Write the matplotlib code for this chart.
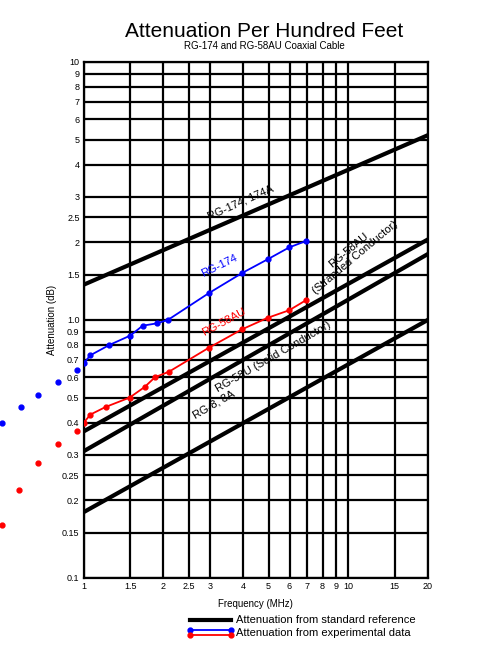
import numpy as np
import matplotlib
matplotlib.use("Agg")
import matplotlib.pyplot as plt
from matplotlib.lines import Line2D

# reference lines (endpoints at 1 and 20 MHz)
ref_freq = [1, 20]
rg174_ref = [1.37, 5.2]
rg58au_ref = [0.37, 2.05]
rg58u_ref = [0.31, 1.8]
rg8_ref = [0.18, 1.0]

# measured data (some points fall below 1 MHz, outside the axes)
blue_freq = [0.49, 0.58, 0.67, 0.80, 0.94, 1.0, 1.06, 1.25, 1.5, 1.67, 1.89, 2.08, 2.97, 3.97, 4.97, 5.98, 6.9]
blue_att = [0.40, 0.46, 0.51, 0.575, 0.64, 0.68, 0.73, 0.80, 0.87, 0.95, 0.97, 1.0, 1.27, 1.52, 1.72, 1.91, 2.02]
red_freq = [0.49, 0.57, 0.67, 0.80, 0.94, 1.0, 1.06, 1.21, 1.49, 1.70, 1.86, 2.1, 2.97, 3.97, 4.97, 5.98, 6.9]
red_att = [0.16, 0.22, 0.28, 0.33, 0.37, 0.40, 0.43, 0.46, 0.50, 0.55, 0.60, 0.63, 0.78, 0.92, 1.02, 1.09, 1.19]

x_ticks = [1, 1.5, 2, 2.5, 3, 4, 5, 6, 7, 8, 9, 10, 15, 20]
x_labels = ["1", "1.5", "2", "2.5", "3", "4", "5", "6", "7", "8", "9", "10", "15", "20"]
y_ticks = [0.1, 0.15, 0.2, 0.25, 0.3, 0.4, 0.5, 0.6, 0.7, 0.8, 0.9, 1.0,
           1.5, 2, 2.5, 3, 4, 5, 6, 7, 8, 9, 10]
y_labels = ["0.1", "0.15", "0.2", "0.25", "0.3", "0.4", "0.5", "0.6", "0.7", "0.8", "0.9", "1.0",
            "1.5", "2", "2.5", "3", "4", "5", "6", "7", "8", "9", "10"]

plt.rcParams["font.family"] = ["Liberation Sans", "DejaVu Sans"]

fig = plt.figure(figsize=(4.9, 6.59), dpi=100)
ax = fig.add_axes([0.171, 0.123, 0.702, 0.783])
ax.set_xscale("log")
ax.set_yscale("log")
ax.set_xlim(1, 20)
ax.set_ylim(0.1, 10)

ax.set_xticks(x_ticks)
ax.set_xticklabels(x_labels, fontsize=6.5)
ax.set_yticks(y_ticks)
ax.set_yticklabels(y_labels, fontsize=6.5)
ax.minorticks_off()
ax.tick_params(length=0, pad=3)
ax.grid(True, color="black", linewidth=1.6)
for s in ax.spines.values():
    s.set_linewidth(1.6)

for vals in (rg174_ref, rg58au_ref, rg58u_ref, rg8_ref):
    ax.plot(ref_freq, vals, color="black", linewidth=3, zorder=3)

bf, ba = np.array(blue_freq), np.array(blue_att)
rf, ra = np.array(red_freq), np.array(red_att)
ms = 3.5
ax.plot(bf[bf >= 1], ba[bf >= 1], color="blue", marker="o", markersize=ms, linewidth=1.3, zorder=4)
ax.plot(bf[bf < 1], ba[bf < 1], "o", color="blue", markersize=ms, clip_on=False, zorder=4)
ax.plot(rf[rf >= 1], ra[rf >= 1], color="red", marker="o", markersize=ms, linewidth=1.3, zorder=4)
ax.plot(rf[rf < 1], ra[rf < 1], "o", color="red", markersize=ms, clip_on=False, zorder=4)

ax.text(3.9, 2.85, "RG-174, 174A", fontsize=8, rotation=24, ha="center", va="center")
ax.text(3.25, 1.62, "RG-174", fontsize=8, color="blue", rotation=26, ha="center", va="center")
ax.text(3.4, 0.98, "RG-58AU", fontsize=8, color="red", rotation=28, ha="center", va="center")
ax.text(10.3, 1.8, "RG-58AU\n(Stranded Conductor)", fontsize=8, rotation=40, ha="center", va="center",
        linespacing=1.0)
ax.text(5.2, 0.72, "RG-58U (Solid Conductor)", fontsize=8, rotation=30, ha="center", va="center")
ax.text(3.1, 0.47, "RG-8, 8A", fontsize=8, rotation=30, ha="center", va="center")

ax.set_xlabel("Frequency (MHz)", fontsize=7, labelpad=6)
ax.set_ylabel("Attenuation (dB)", fontsize=7, labelpad=4)

fig.text(0.54, 0.952, "Attenuation Per Hundred Feet", fontsize=15, ha="center", va="center")
fig.text(0.54, 0.930, "RG-174 and RG-58AU Coaxial Cable", fontsize=7, ha="center", va="center")

# legend drawn by hand: blue and red sample lines share the second entry
lx = [0.388, 0.472]
fig.add_artist(Line2D(lx, [0.059, 0.059], color="black", linewidth=3))
fig.add_artist(Line2D(lx, [0.044, 0.044], color="blue", marker="o", markersize=ms, linewidth=1.3))
fig.add_artist(Line2D(lx, [0.037, 0.037], color="red", marker="o", markersize=ms, linewidth=1.3))
fig.text(0.482, 0.059, "Attenuation from standard reference", fontsize=8, va="center")
fig.text(0.482, 0.040, "Attenuation from experimental data", fontsize=8, va="center")

fig.savefig("out.png", dpi=100)
